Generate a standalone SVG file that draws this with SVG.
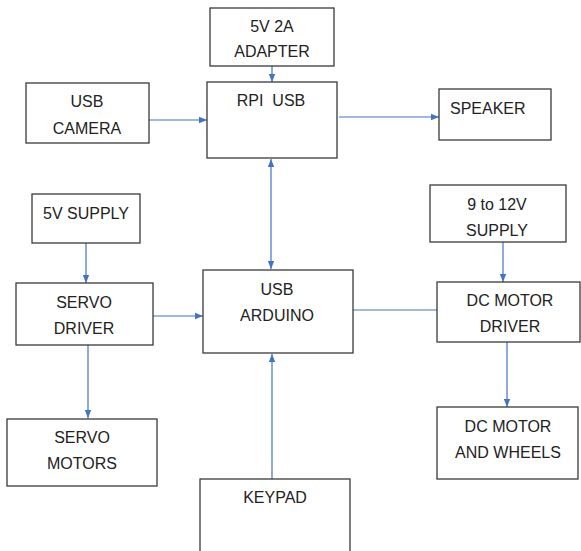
<svg xmlns="http://www.w3.org/2000/svg" width="581" height="551" viewBox="0 0 581 551">
<style>
.box{fill:#fff;stroke:#3a3a3a;stroke-width:1.3}
.t{font-family:"Liberation Sans",Arial,sans-serif;font-size:16px;fill:#222;text-anchor:middle;white-space:pre}
.l{text-anchor:start}
.c{stroke:#4472C4;stroke-width:1.2;fill:none}
</style>
<defs>
<marker id="ah" markerUnits="userSpaceOnUse" markerWidth="8" markerHeight="8" viewBox="0 0 8 8" refX="8" refY="4" orient="auto-start-reverse">
<path d="M0,0.8 L8,4 L0,7.2 Z" fill="#4472C4"/>
</marker>
</defs>
<rect width="581" height="551" fill="#fff"/>
<g id="connectors">
<line class="c" x1="272" y1="66" x2="272" y2="82" marker-end="url(#ah)"/>
<line class="c" x1="149" y1="120" x2="207" y2="120" marker-end="url(#ah)"/>
<line class="c" x1="339" y1="117" x2="439" y2="117" marker-end="url(#ah)"/>
<line class="c" x1="271" y1="159" x2="271" y2="269" marker-start="url(#ah)" marker-end="url(#ah)"/>
<line class="c" x1="86" y1="243" x2="86" y2="283" marker-end="url(#ah)"/>
<line class="c" x1="153" y1="316" x2="203" y2="316" marker-end="url(#ah)"/>
<line class="c" x1="353" y1="310" x2="437" y2="310"/>
<line class="c" x1="503" y1="242" x2="503" y2="282" marker-end="url(#ah)"/>
<line class="c" x1="507" y1="342" x2="507" y2="407" marker-end="url(#ah)"/>
<line class="c" x1="88" y1="345" x2="88" y2="418" marker-end="url(#ah)"/>
<line class="c" x1="272" y1="479" x2="272" y2="354" marker-end="url(#ah)"/>
</g>
<g id="adapter"><rect class="box" x="210" y="8" width="124" height="58"/><text class="t" x="272" y="32">5V 2A</text><text class="t" x="272" y="57">ADAPTER</text></g>
<g id="rpi"><rect class="box" x="207" y="82" width="130" height="76"/><text class="t" x="271" y="106">RPI  USB</text></g>
<g id="camera"><rect class="box" x="26" y="83" width="123" height="60"/><text class="t" x="87" y="107">USB</text><text class="t" x="87" y="134">CAMERA</text></g>
<g id="speaker"><rect class="box" x="439" y="89" width="112" height="51"/><text class="t l" x="450" y="114">SPEAKER</text></g>
<g id="supply5v"><rect class="box" x="32" y="194" width="108" height="49"/><text class="t" x="86" y="219">5V SUPPLY</text></g>
<g id="servodriver"><rect class="box" x="16" y="283" width="137" height="62"/><text class="t" x="84" y="308">SERVO</text><text class="t" x="84" y="334">DRIVER</text></g>
<g id="arduino"><rect class="box" x="203" y="270" width="150" height="83"/><text class="t" x="277" y="295">USB</text><text class="t" x="277" y="321">ARDUINO</text></g>
<g id="supply912"><rect class="box" x="430" y="185" width="136" height="57"/><text class="t" x="497" y="210">9 to 12V</text><text class="t" x="497" y="236">SUPPLY</text></g>
<g id="dcdriver"><rect class="box" x="437" y="282" width="143" height="60"/><text class="t" x="510" y="306">DC MOTOR</text><text class="t" x="510" y="332">DRIVER</text></g>
<g id="dcwheels"><rect class="box" x="437" y="407" width="141" height="72"/><text class="t" x="508" y="432">DC MOTOR</text><text class="t" x="508" y="458">AND WHEELS</text></g>
<g id="servomotors"><rect class="box" x="7" y="419" width="150" height="67"/><text class="t" x="82" y="443">SERVO</text><text class="t" x="82" y="469">MOTORS</text></g>
<g id="keypad"><rect class="box" x="200" y="479" width="150" height="80"/><text class="t" x="275" y="503">KEYPAD</text></g>
</svg>
